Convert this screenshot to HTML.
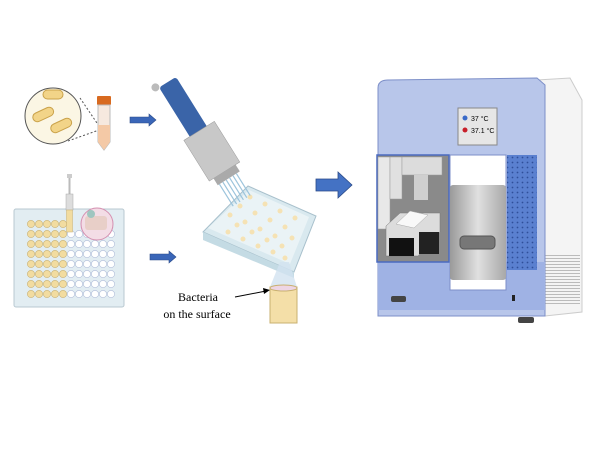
<!DOCTYPE html>
<html><head><style>body{margin:0;background:#fff}svg{display:block}</style></head><body>
<svg width="600" height="450" viewBox="0 0 600 450" xmlns="http://www.w3.org/2000/svg" font-family="Liberation Serif, serif">
<defs>
<pattern id="dots" width="5" height="5" patternUnits="userSpaceOnUse"><circle cx="2.5" cy="2.5" r="0.9" fill="#2f4f9a"/></pattern>
<pattern id="vent" width="4" height="3" patternUnits="userSpaceOnUse"><rect width="4" height="1" fill="#bbb"/></pattern>
<linearGradient id="door" x1="0" x2="1"><stop offset="0" stop-color="#9a9a9a"/><stop offset="0.5" stop-color="#e0e0e0"/><stop offset="1" stop-color="#a8a8a8"/></linearGradient>
</defs>
<circle cx="53" cy="116" r="28" fill="#fbf6e4" stroke="#555" stroke-width="1"/>
<rect x="43" y="90" width="20" height="9" rx="4.5" fill="#f2d488" stroke="#caa24a"/>
<rect x="32" y="110" width="22" height="9" rx="4.5" fill="#f2d488" stroke="#caa24a" transform="rotate(-25 43 114)"/>
<rect x="50" y="121" width="22" height="9" rx="4.5" fill="#f2d488" stroke="#caa24a" transform="rotate(-25 61 125)"/>
<line x1="80" y1="98" x2="99" y2="126" stroke="#555" stroke-dasharray="2 2"/>
<line x1="68" y1="141" x2="99" y2="130" stroke="#555" stroke-dasharray="2 2"/>
<rect x="97" y="96" width="14" height="9" rx="1" fill="#d86a20"/>
<path d="M98 105 H110 V142 L104 150 L98 142 Z" fill="#f6e9df" stroke="#bbb"/>
<path d="M98 125 H110 V142 L104 150 L98 142 Z" fill="#f4c9a6"/>
<path d="M130 117 H149 V114 L156 120 L149 126 V123 H130 Z" fill="#3a66b8" stroke="#2a4a88" stroke-width="0.6"/>
<path d="M150 254 H169 V251 L176 257 L169 263 V260 H150 Z" fill="#3a66b8" stroke="#2a4a88" stroke-width="0.6"/>
<path d="M316 179 H338 V172 L352 185 L338 198 V191 H316 Z" fill="#4472c4" stroke="#2a4a88" stroke-width="0.8"/>
<rect x="14" y="209" width="110" height="98" rx="2" fill="#e2edf2" stroke="#b8c8d0"/>
<g fill="#f2dca0" stroke="#c9b070" stroke-width="0.6">
<circle cx="31" cy="224" r="3.6"/><circle cx="39" cy="224" r="3.6"/><circle cx="47" cy="224" r="3.6"/><circle cx="55" cy="224" r="3.6"/><circle cx="63" cy="224" r="3.6"/>
<circle cx="31" cy="234" r="3.6"/><circle cx="39" cy="234" r="3.6"/><circle cx="47" cy="234" r="3.6"/><circle cx="55" cy="234" r="3.6"/><circle cx="63" cy="234" r="3.6"/>
<circle cx="31" cy="244" r="3.6"/><circle cx="39" cy="244" r="3.6"/><circle cx="47" cy="244" r="3.6"/><circle cx="55" cy="244" r="3.6"/><circle cx="63" cy="244" r="3.6"/>
<circle cx="31" cy="254" r="3.6"/><circle cx="39" cy="254" r="3.6"/><circle cx="47" cy="254" r="3.6"/><circle cx="55" cy="254" r="3.6"/><circle cx="63" cy="254" r="3.6"/>
<circle cx="31" cy="264" r="3.6"/><circle cx="39" cy="264" r="3.6"/><circle cx="47" cy="264" r="3.6"/><circle cx="55" cy="264" r="3.6"/><circle cx="63" cy="264" r="3.6"/>
<circle cx="31" cy="274" r="3.6"/><circle cx="39" cy="274" r="3.6"/><circle cx="47" cy="274" r="3.6"/><circle cx="55" cy="274" r="3.6"/><circle cx="63" cy="274" r="3.6"/>
<circle cx="31" cy="284" r="3.6"/><circle cx="39" cy="284" r="3.6"/><circle cx="47" cy="284" r="3.6"/><circle cx="55" cy="284" r="3.6"/><circle cx="63" cy="284" r="3.6"/>
<circle cx="31" cy="294" r="3.6"/><circle cx="39" cy="294" r="3.6"/><circle cx="47" cy="294" r="3.6"/><circle cx="55" cy="294" r="3.6"/><circle cx="63" cy="294" r="3.6"/>
</g>
<g fill="#fff" stroke="#b0bcd8" stroke-width="0.6">
<circle cx="71" cy="234" r="3.6"/><circle cx="79" cy="234" r="3.6"/><circle cx="87" cy="234" r="3.6"/><circle cx="95" cy="234" r="3.6"/><circle cx="103" cy="234" r="3.6"/><circle cx="111" cy="234" r="3.6"/>
<circle cx="71" cy="244" r="3.6"/><circle cx="79" cy="244" r="3.6"/><circle cx="87" cy="244" r="3.6"/><circle cx="95" cy="244" r="3.6"/><circle cx="103" cy="244" r="3.6"/><circle cx="111" cy="244" r="3.6"/>
<circle cx="71" cy="254" r="3.6"/><circle cx="79" cy="254" r="3.6"/><circle cx="87" cy="254" r="3.6"/><circle cx="95" cy="254" r="3.6"/><circle cx="103" cy="254" r="3.6"/><circle cx="111" cy="254" r="3.6"/>
<circle cx="71" cy="264" r="3.6"/><circle cx="79" cy="264" r="3.6"/><circle cx="87" cy="264" r="3.6"/><circle cx="95" cy="264" r="3.6"/><circle cx="103" cy="264" r="3.6"/><circle cx="111" cy="264" r="3.6"/>
<circle cx="71" cy="274" r="3.6"/><circle cx="79" cy="274" r="3.6"/><circle cx="87" cy="274" r="3.6"/><circle cx="95" cy="274" r="3.6"/><circle cx="103" cy="274" r="3.6"/><circle cx="111" cy="274" r="3.6"/>
<circle cx="71" cy="284" r="3.6"/><circle cx="79" cy="284" r="3.6"/><circle cx="87" cy="284" r="3.6"/><circle cx="95" cy="284" r="3.6"/><circle cx="103" cy="284" r="3.6"/><circle cx="111" cy="284" r="3.6"/>
<circle cx="71" cy="294" r="3.6"/><circle cx="79" cy="294" r="3.6"/><circle cx="87" cy="294" r="3.6"/><circle cx="95" cy="294" r="3.6"/><circle cx="103" cy="294" r="3.6"/><circle cx="111" cy="294" r="3.6"/>
</g>
<rect x="67" y="174" width="5" height="4" fill="#ccc"/>
<rect x="68.5" y="178" width="2" height="16" fill="#bbb"/>
<rect x="66" y="194" width="7" height="16" fill="#ddd" stroke="#aaa" stroke-width="0.5"/>
<rect x="66.5" y="210" width="6" height="22" fill="#f2dca0" stroke="#c9b070" stroke-width="0.5"/>
<circle cx="97" cy="224" r="16" fill="#f3dde6" stroke="#d48fb0"/>
<rect x="85" y="216" width="22" height="14" rx="3" fill="#e8cfc8"/>
<circle cx="91" cy="214" r="4" fill="#9fc6c0"/>
<path d="M203 232 L248 186 L316 216 L294 272 Z" fill="#d9e9ef" stroke="#a8c0cc"/>
<path d="M203 232 L294 272 L294 278 L203 240 Z" fill="#c4dbe4"/>
<path d="M208 228 L249 190 L309 217 L290 264 Z" fill="#eaf3f6"/>
<g fill="#f5e2b4">
<circle cx="230" cy="215" r="2.5"/><circle cx="240" cy="206" r="2.5"/><circle cx="250" cy="197" r="2.5"/>
<circle cx="245" cy="222" r="2.5"/><circle cx="255" cy="213" r="2.5"/><circle cx="265" cy="204" r="2.5"/>
<circle cx="260" cy="229" r="2.5"/><circle cx="270" cy="220" r="2.5"/><circle cx="280" cy="211" r="2.5"/>
<circle cx="275" cy="236" r="2.5"/><circle cx="285" cy="227" r="2.5"/><circle cx="295" cy="218" r="2.5"/>
<circle cx="228" cy="232" r="2.5"/><circle cx="243" cy="239" r="2.5"/><circle cx="258" cy="246" r="2.5"/><circle cx="273" cy="252" r="2.5"/><circle cx="285" cy="258" r="2.5"/>
<circle cx="237" cy="225" r="2.5"/><circle cx="252" cy="232" r="2.5"/><circle cx="267" cy="240" r="2.5"/><circle cx="282" cy="246" r="2.5"/><circle cx="292" cy="238" r="2.5"/>
</g>
<g transform="translate(6,12) rotate(-32 195 120)">
<rect x="183" y="60" width="20" height="60" rx="3" fill="#3a64a8"/>
<circle cx="180" cy="58" r="4" fill="#bbb"/>
<rect x="176" y="118" width="36" height="48" fill="#c8c8c8" stroke="#999" stroke-width="0.5"/>
<rect x="181" y="166" width="26" height="8" fill="#aaa"/>
<g stroke="#9cc4dc" stroke-width="1.2"><line x1="183" y1="174" x2="183" y2="200"/><line x1="187" y1="174" x2="187" y2="200"/><line x1="191" y1="174" x2="191" y2="200"/><line x1="195" y1="174" x2="195" y2="200"/><line x1="199" y1="174" x2="199" y2="200"/><line x1="203" y1="174" x2="203" y2="200"/></g>
</g>
<path d="M280 262 L289 262 L297 287 L270 287 Z" fill="#d2e2f0" opacity="0.8"/>
<rect x="270" y="287" width="27" height="36" fill="#f4dfa8" stroke="#c9b070"/>
<ellipse cx="283.5" cy="288" rx="13.5" ry="3" fill="#eed5e4" stroke="#c9b070"/>
<text x="198" y="301" font-size="12" text-anchor="middle">Bacteria</text>
<text x="197" y="318" font-size="12" text-anchor="middle">on the surface</text>
<line x1="235" y1="297" x2="266" y2="291" stroke="#000"/>
<path d="M270 290 L263 288 L264 294 Z" fill="#000"/>
<path d="M537 80 L570 78 L582 100 L582 312 L545 316 L537 310 Z" fill="#f4f4f4" stroke="#ccc"/>
<rect x="543" y="255" width="37" height="50" fill="url(#vent)"/>
<path d="M378 88 Q378 80 388 80 L537 78 L545 85 L545 316 L378 316 Z" fill="#b8c6ea" stroke="#7d8fc8"/>
<rect x="378" y="262" width="167" height="48" fill="#9fb2e4"/>
<rect x="507" y="155" width="30" height="115" fill="#5a80d0"/>
<rect x="507" y="155" width="30" height="115" fill="url(#dots)"/>
<rect x="458" y="108" width="39" height="37" fill="#e6e6e6" stroke="#888"/>
<circle cx="465" cy="118" r="2.5" fill="#3a6ac8"/><circle cx="465" cy="130" r="2.5" fill="#c8202a"/>
<text x="471" y="121" font-size="7" font-family="Liberation Sans, sans-serif">37 °C</text>
<text x="471" y="133" font-size="7" font-family="Liberation Sans, sans-serif">37.1 °C</text>
<rect x="377" y="155" width="72" height="107" fill="#8a8a8a" stroke="#4a6ac0" stroke-width="1.5"/>
<rect x="378" y="157" width="12" height="72" fill="#e8e8e8" stroke="#999" stroke-width="0.5"/>
<rect x="390" y="157" width="12" height="42" fill="#e0e0e0" stroke="#999" stroke-width="0.5"/>
<rect x="402" y="157" width="40" height="18" fill="#dcdcdc" stroke="#999" stroke-width="0.5"/>
<rect x="414" y="175" width="14" height="25" fill="#cfcfcf"/>
<path d="M386 226 L400 213 L440 213 L440 232 L418 256 L386 256 Z" fill="#dcdcdc" stroke="#777" stroke-width="0.5"/>
<rect x="389" y="238" width="25" height="18" fill="#111"/>
<rect x="419" y="232" width="20" height="22" fill="#222"/>
<path d="M396 224 L410 211 L428 215 L414 228 Z" fill="#f8f8f8" stroke="#aaa" stroke-width="0.5"/>
<rect x="450" y="155" width="56" height="135" fill="#fff" stroke="#7d8fc8"/>
<rect x="450" y="185" width="56" height="95" rx="3" fill="url(#door)"/>
<rect x="460" y="236" width="35" height="13" rx="4" fill="#777" stroke="#555"/>
<rect x="512" y="295" width="3" height="6" fill="#222"/>
<rect x="391" y="296" width="15" height="6" rx="2" fill="#444"/>
<rect x="518" y="317" width="16" height="6" rx="2" fill="#444"/>
</svg>
</body></html>
